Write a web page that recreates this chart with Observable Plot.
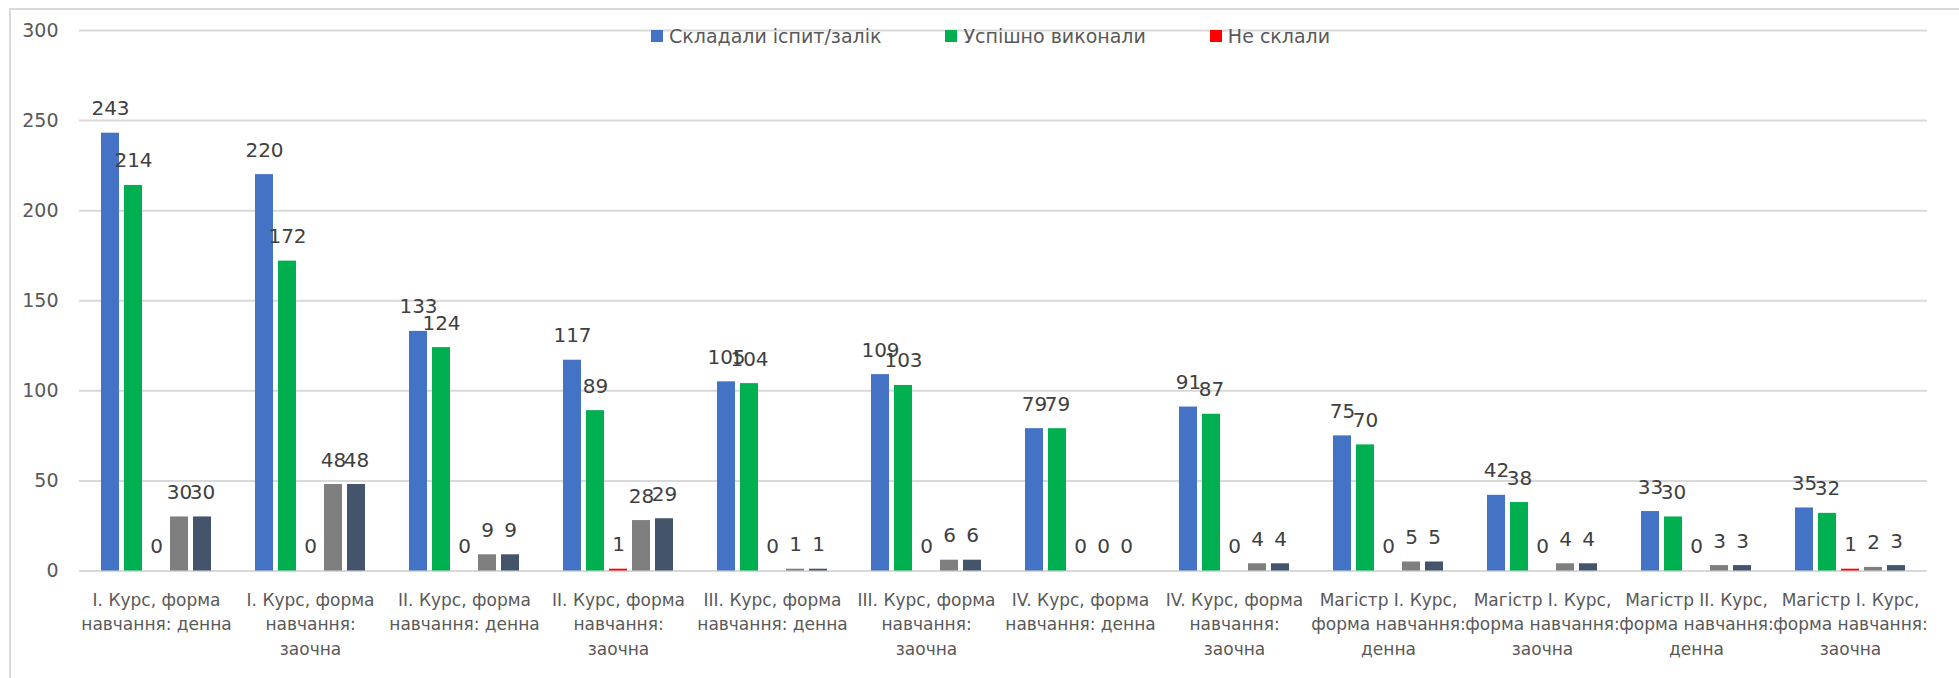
<!DOCTYPE html>
<html>
<head>
<meta charset="utf-8">
<script src="https://cdn.jsdelivr.net/npm/d3@7"></script>
<script src="https://cdn.jsdelivr.net/npm/@observablehq/plot@0.6"></script>
<style>
  html, body { margin: 0; padding: 0; background: #fff; }
  #wrap { position: relative; width: 1959px; height: 678px; overflow: hidden; background: #fff; }
  #chart { position: absolute; left: 0; top: 0; }
  #border { position: absolute; left: 9px; top: 8px; width: 2000px; height: 700px;
            border-top: 2px solid #d9d9d9; border-left: 2px solid #d9d9d9; pointer-events: none; }
  #legend { position: absolute; left: 651px; top: 26px; }
  #legend .lg-swatches { font-family: "DejaVu Sans", sans-serif !important; font-size: 19px !important;
            color: #595959 !important; margin: 0 !important; min-height: 20px !important; line-height: 20px; }
  #legend .lg-swatch { margin-right: 64px !important; }
  #legend .lg-swatch > svg { margin-right: 6px !important; }
</style>
</head>
<body>
<div id="wrap">
  <div id="chart"></div>
  <div id="legend"></div>
  <div id="border"></div>
</div>
<script>
// ---- data ----
const categories = [
  "І. Курс, форма навчання: денна",
  "І. Курс, форма навчання: заочна",
  "ІІ. Курс, форма навчання: денна",
  "ІІ. Курс, форма навчання: заочна",
  "ІІІ. Курс, форма навчання: денна",
  "ІІІ. Курс, форма навчання: заочна",
  "IV. Курс, форма навчання: денна",
  "IV. Курс, форма навчання: заочна",
  "Магістр І. Курс, форма навчання: денна",
  "Магістр І. Курс, форма навчання: заочна",
  "Магістр ІІ. Курс, форма навчання: денна",
  "Магістр І. Курс, форма навчання: заочна"
];
const tickLabels = [
  "І. Курс, форма\nнавчання: денна",
  "І. Курс, форма\nнавчання:\nзаочна",
  "ІІ. Курс, форма\nнавчання: денна",
  "ІІ. Курс, форма\nнавчання:\nзаочна",
  "ІІІ. Курс, форма\nнавчання: денна",
  "ІІІ. Курс, форма\nнавчання:\nзаочна",
  "IV. Курс, форма\nнавчання: денна",
  "IV. Курс, форма\nнавчання:\nзаочна",
  "Магістр І. Курс,\nформа навчання:\nденна",
  "Магістр І. Курс,\nформа навчання:\nзаочна",
  "Магістр ІІ. Курс,\nформа навчання:\nденна",
  "Магістр І. Курс,\nформа навчання:\nзаочна"
];
const seriesNames = ["Складали іспит/залік", "Успішно виконали", "Не склали", "Ряд 4", "Ряд 5"];
const seriesColors = ["#4472C4", "#00B050", "#FF0000", "#7F7F7F", "#44546A"];
const legendNames = ["Складали іспит/залік", "Успішно виконали", "Не склали"];
const legendColors = ["#4472C4", "#00B050", "#FF0000"];

const skladaly = [243, 220, 133, 117, 105, 109, 79, 91, 75, 42, 33, 35];
const uspishno = [214, 172, 124, 89, 104, 103, 79, 87, 70, 38, 30, 32];
const neSklaly = [0, 0, 0, 1, 0, 0, 0, 0, 0, 0, 0, 1];
const series4  = [30, 48, 9, 28, 1, 6, 0, 4, 5, 4, 3, 2];
const series5  = [30, 48, 9, 29, 1, 6, 0, 4, 5, 4, 3, 3];
const yTicks = [0, 50, 100, 150, 200, 250, 300];

// ---- build table ----
const seriesValues = [skladaly, uspishno, neSklaly, series4, series5];
const data = [];
categories.forEach((c, i) => {
  seriesNames.forEach((s, j) => data.push({cat: i, name: c, series: s, value: seriesValues[j][i]}));
});

const font = "'DejaVu Sans', sans-serif";

const chart = Plot.plot({
  width: 1959,
  height: 678,
  marginLeft: 73,
  marginRight: 27,
  marginTop: 30,
  marginBottom: 107.5,
  style: {fontFamily: font, background: "transparent", color: "#595959", overflow: "visible"},
  fx: {domain: d3.range(categories.length), paddingInner: 0, paddingOuter: 0, axis: null, label: null},
  x: {domain: seriesNames, paddingInner: 0.22, paddingOuter: 0.85, axis: null, label: null},
  y: {domain: [0, 300], axis: null, label: null},
  color: {domain: seriesNames, range: seriesColors},
  marks: [
    Plot.ruleY(yTicks, {y: d => d, stroke: "#d9d9d9", strokeWidth: 2}),
    Plot.axisY({ticks: yTicks, tickSize: 0, tickPadding: 21, fontSize: 19, fill: "#595959", label: null}),
    Plot.axisFx({anchor: "bottom", tickSize: 0, tickPadding: 17, fontSize: 17, lineHeight: 1.46,
                 fill: "#595959", label: null, tickFormat: i => tickLabels[i]}),
    Plot.barY(data, {fx: "cat", x: "series", y: "value", fill: "series"}),
    Plot.text(data, {fx: "cat", x: "series", y: "value", text: d => String(d.value),
                     dy: -18, lineAnchor: "bottom", fontSize: 20, fill: "#404040"})
  ]
});
document.getElementById("chart").appendChild(chart);

const legend = Plot.legend({
  color: {domain: legendNames, range: legendColors},
  legend: "swatches",
  swatchSize: 12,
  className: "lg"
});
document.getElementById("legend").appendChild(legend);
</script>
</body>
</html>
